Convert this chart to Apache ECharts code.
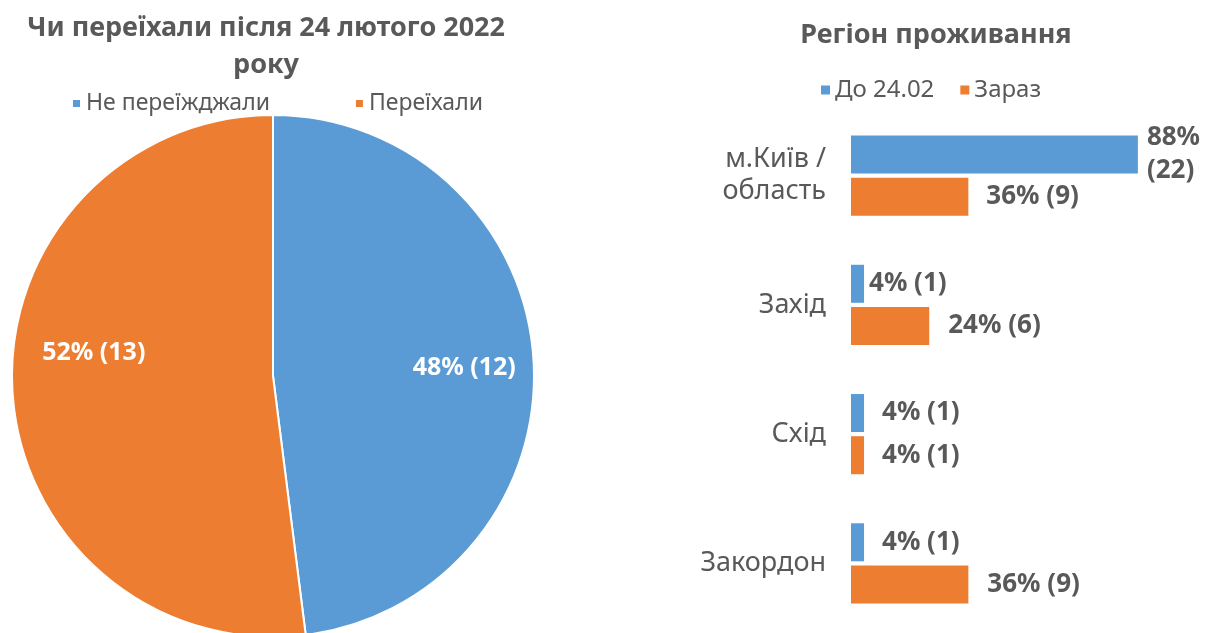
<!DOCTYPE html>
<html>
<head>
<meta charset="utf-8">
<script src="https://cdn.jsdelivr.net/npm/echarts@6/dist/echarts.min.js"></script>
<style>
  html, body { margin: 0; padding: 0; background: #fff; }
  #chart { width: 1205px; height: 633px; }
</style>
</head>
<body>
<div id="chart"></div>
<script>
// дані
const moveNames = ['Не переїжджали', 'Переїхали']
const moveCounts = [12, 13]
const movePercents = [48, 52]

const regions = ['м.Київ /\nобласть', 'Захід', 'Схід', 'Закордон']
const seriesNames = ['До 24.02', 'Зараз']
const beforePercents = [88, 4, 4, 4]
const beforeCounts = [22, 1, 1, 1]
const nowPercents = [36, 24, 4, 36]
const nowCounts = [9, 6, 1, 9]

const BLUE = '#5B9BD5'
const ORANGE = '#ED7D31'
const TEXT = '#595959'
const FONT = 'Noto Sans'

const chart = echarts.init(document.getElementById('chart'))

// підписи на барах — як в Excel, трохи різні відступи
const labelDistance = [[9, 18], [5, 19], [18, 18], [18, 19]]

const barItems = (pcts, counts, s) => pcts.map((v, i) => ({
  value: v,
  label: {
    distance: labelDistance[i][s],
    formatter: v > 80 ? v + '%\n(' + counts[i] + ')' : v + '% (' + counts[i] + ')',
  },
}))

const option = {
  backgroundColor: '#fff',
  textStyle: { fontFamily: FONT },
  title: [
    {
      text: 'Чи переїхали після 24 лютого 2022\nроку',
      left: 261,
      top: 5,
      textAlign: 'center',
      textStyle: { fontSize: 27, fontWeight: 'bold', color: TEXT, lineHeight: 37, fontFamily: FONT },
    },
    {
      text: 'Регіон проживання',
      left: 931,
      top: 17,
      textAlign: 'center',
      textStyle: { fontSize: 27, fontWeight: 'bold', color: TEXT, fontFamily: FONT },
    },
  ],
  legend: [
    {
      data: moveNames,
      left: 66,
      top: 87,
      icon: 'rect',
      itemWidth: 9,
      itemHeight: 9,
      itemGap: 84,
      textStyle: { fontSize: 23, color: TEXT, fontFamily: FONT },
    },
    {
      data: seriesNames,
      left: 816,
      top: 73,
      icon: 'rect',
      itemWidth: 9,
      itemHeight: 9,
      itemGap: 26,
      textStyle: { fontSize: 24, color: TEXT, fontFamily: FONT },
    },
  ],
  grid: {
    left: 851,
    right: 28,
    top: 111,
    bottom: 5,
  },
  xAxis: {
    type: 'value',
    min: 0,
    max: 100,
    show: false,
  },
  yAxis: {
    type: 'category',
    inverse: true,
    data: regions,
    axisLine: { show: false },
    axisTick: { show: false },
    axisLabel: {
      margin: 25,
      fontSize: 27,
      lineHeight: 32,
      color: TEXT,
      fontFamily: FONT,
    },
  },
  series: [
    {
      type: 'pie',
      center: [273, 376],
      radius: 261,
      startAngle: 90,
      clockwise: true,
      animation: false,
      itemStyle: { borderColor: '#fff', borderWidth: 2 },
      label: {
        position: 'inside',
        color: '#fff',
        fontWeight: 'bold',
        fontSize: 25,
        fontFamily: FONT,
        formatter: p => movePercents[p.dataIndex] + '% (' + p.value + ')',
      },
      labelLine: { show: false },
      data: moveNames.map((n, i) => ({
        name: n,
        value: moveCounts[i],
        itemStyle: { color: i === 0 ? BLUE : ORANGE },
        // Excel розмістив підписи не по центру сектора
        label: { offset: i === 0 ? [58, 0] : [-46, -32] },
      })),
    },
    {
      name: seriesNames[0],
      type: 'bar',
      barWidth: 38,
      barGap: '11%',
      itemStyle: { color: BLUE },
      animation: false,
      label: {
        show: true,
        position: 'right',
        color: TEXT,
        fontWeight: 'bold',
        fontSize: 26,
        lineHeight: 33,
        fontFamily: FONT,
      },
      data: barItems(beforePercents, beforeCounts, 0),
    },
    {
      name: seriesNames[1],
      type: 'bar',
      barWidth: 38,
      itemStyle: { color: ORANGE },
      animation: false,
      label: {
        show: true,
        position: 'right',
        color: TEXT,
        fontWeight: 'bold',
        fontSize: 26,
        fontFamily: FONT,
      },
      data: barItems(nowPercents, nowCounts, 1),
    },
  ],
}

chart.setOption(option)

window.addEventListener('resize', function () {
  chart.resize()
})
</script>
</body>
</html>
